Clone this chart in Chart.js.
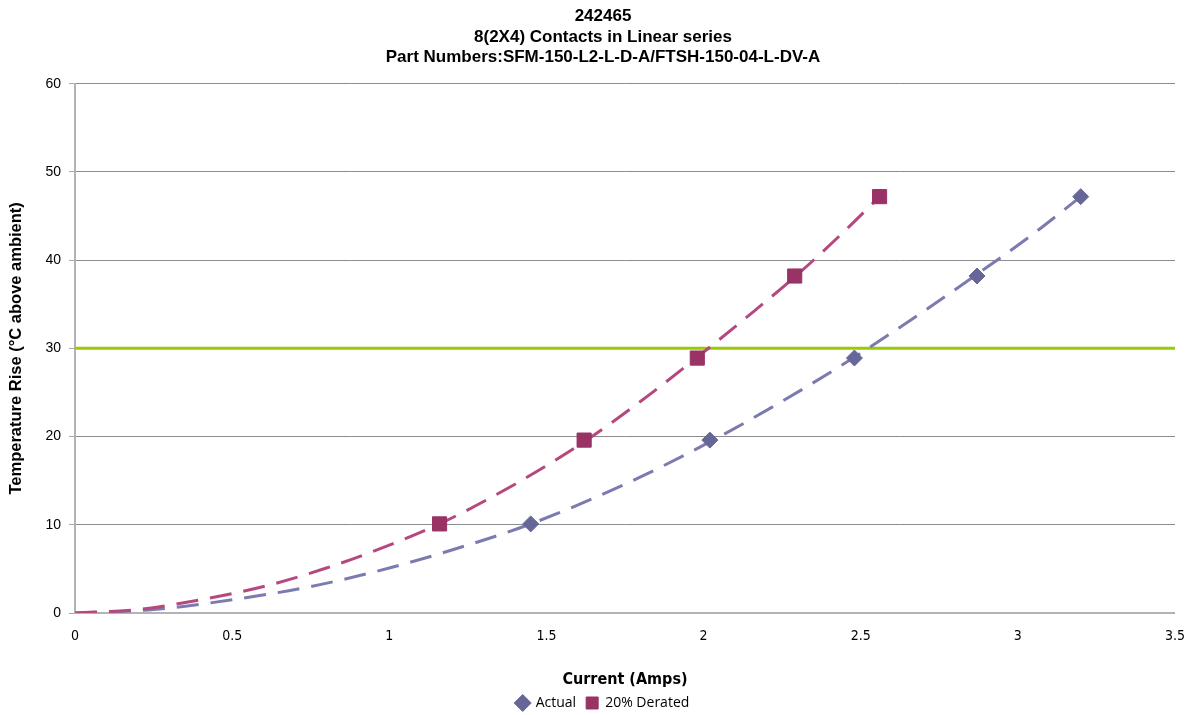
<!DOCTYPE html>
<html><head><meta charset="utf-8">
<script src="https://cdn.jsdelivr.net/npm/chart.js@4/dist/chart.umd.min.js"></script>
<style>html,body{margin:0;padding:0;background:#fff}#wrap{width:1194px;height:715px}</style>
</head><body><div id="wrap"><canvas id="c" width="1194" height="715"></canvas></div>
<script>
// Measured points (Current in Amps, Temperature rise °C)
const actualX = [1.45, 2.02, 2.48, 2.87, 3.20];
const actualY = [10.1, 19.6, 28.9, 38.2, 47.2];
const deratedX = [1.16, 1.62, 1.98, 2.29, 2.56];
const deratedY = [10.1, 19.6, 28.9, 38.2, 47.2];
// Trend curves
const actualTrendX = [0, 0.25, 0.5, 0.75, 1.0, 1.25, 1.45, 1.75, 2.02, 2.25, 2.48, 2.7, 2.87, 3.05, 3.2];
const actualTrendY = [0, 0.4, 1.5, 3.0, 5.1, 7.7, 10.1, 14.6, 19.4, 24.0, 29.0, 34.2, 38.4, 43.0, 47.2];
const deratedTrendX = [0, 0.2, 0.4, 0.6, 0.8, 1.0, 1.16, 1.4, 1.62, 1.8, 1.98, 2.16, 2.3, 2.44, 2.56];
const deratedTrendY = [0, 0.4, 1.5, 3.0, 5.1, 7.7, 10.1, 14.6, 19.4, 24.0, 29.0, 34.2, 38.4, 43.0, 47.2];
// Limit line
const limitX = [0, 3.5];
const limitY = [30, 30];
const xTicks = [0, 0.5, 1, 1.5, 2, 2.5, 3, 3.5];
const titleLines = ['242465', '8(2X4) Contacts in Linear series', 'Part Numbers:SFM-150-L2-L-D-A/FTSH-150-04-L-DV-A'];

const pts = (xs, ys) => xs.map((x, i) => ({x, y: ys[i]}));
const ARIAL = "'Liberation Sans', Arial, sans-serif";
const NARROW = "'Liberation Sans Narrow', 'DejaVu Sans Condensed', sans-serif";

new Chart(document.getElementById('c'), {
  type: 'scatter',
  data: {
    datasets: [
      {label: 'Limit', data: pts(limitX, limitY), showLine: true, borderColor: '#99cc00', borderWidth: 3, pointRadius: 0, order: 5},
      {label: 'Actual trend', data: pts(actualTrendX, actualTrendY), showLine: true, borderColor: '#7b7bb0', borderWidth: 3, borderDash: [22, 12], pointRadius: 0, cubicInterpolationMode: 'monotone', order: 4},
      {label: 'Derated trend', data: pts(deratedTrendX, deratedTrendY), showLine: true, borderColor: '#b5497d', borderWidth: 3, borderDash: [22, 12], pointRadius: 0, cubicInterpolationMode: 'monotone', order: 3},
      {label: 'Actual', data: pts(actualX, actualY), pointStyle: 'rectRot', pointRadius: 8, backgroundColor: '#666699', borderColor: '#666699', order: 1},
      {label: '20% Derated', data: pts(deratedX, deratedY), pointStyle: 'rect', pointRadius: 10, backgroundColor: '#993366', borderColor: '#993366', order: 1}
    ]
  },
  options: {
    animation: false,
    responsive: false,
    layout: {padding: {left: 27, right: 15, top: 0, bottom: -5}},
    plugins: {
      title: {display: true, text: titleLines, color: '#000', font: {family: ARIAL, size: 17, weight: 'bold', lineHeight: 1.21}, padding: {top: 6, bottom: 16}},
      legend: {
        position: 'bottom',
        labels: {
          filter: (item) => item.text === 'Actual' || item.text === '20% Derated',
          usePointStyle: true, boxWidth: 12, boxHeight: 12,
          color: '#000', font: {family: "'Open Sans', 'Noto Sans', sans-serif", size: 14}, padding: 10
        }
      },
      tooltip: {enabled: false}
    },
    scales: {
      x: {
        type: 'linear', min: 0, max: 3.5,
        afterBuildTicks: (s) => { s.ticks = xTicks.map(v => ({value: v})); },
        ticks: {color: '#000', font: {family: NARROW, size: 14}, padding: 9, callback: (v) => String(v)},
        grid: {display: false, drawTicks: true, tickLength: 6, tickColor: '#a6a6a6'},
        border: {color: '#b3b3b3', width: 2},
        title: {display: true, text: 'Current (Amps)', color: '#000', font: {family: NARROW, size: 16, weight: 'bold'}, padding: {top: 18, bottom: -3}},
        afterFit: (s) => { s.height = 73; }
      },
      y: {
        min: 0, max: 60,
        ticks: {stepSize: 10, color: '#000', font: {family: ARIAL, size: 14}, padding: 8},
        grid: {color: '#8c8c8c', lineWidth: 1, drawTicks: true, tickLength: 6, tickColor: '#a6a6a6'},
        border: {color: '#b3b3b3', width: 2},
        title: {display: true, text: 'Temperature Rise (°C above ambient)', color: '#000', font: {family: ARIAL, size: 16.5, weight: 'bold'}, padding: {top: -20, bottom: 0}},
        afterFit: (s) => { s.width = 48; }
      }
    }
  }
});
</script></body></html>
